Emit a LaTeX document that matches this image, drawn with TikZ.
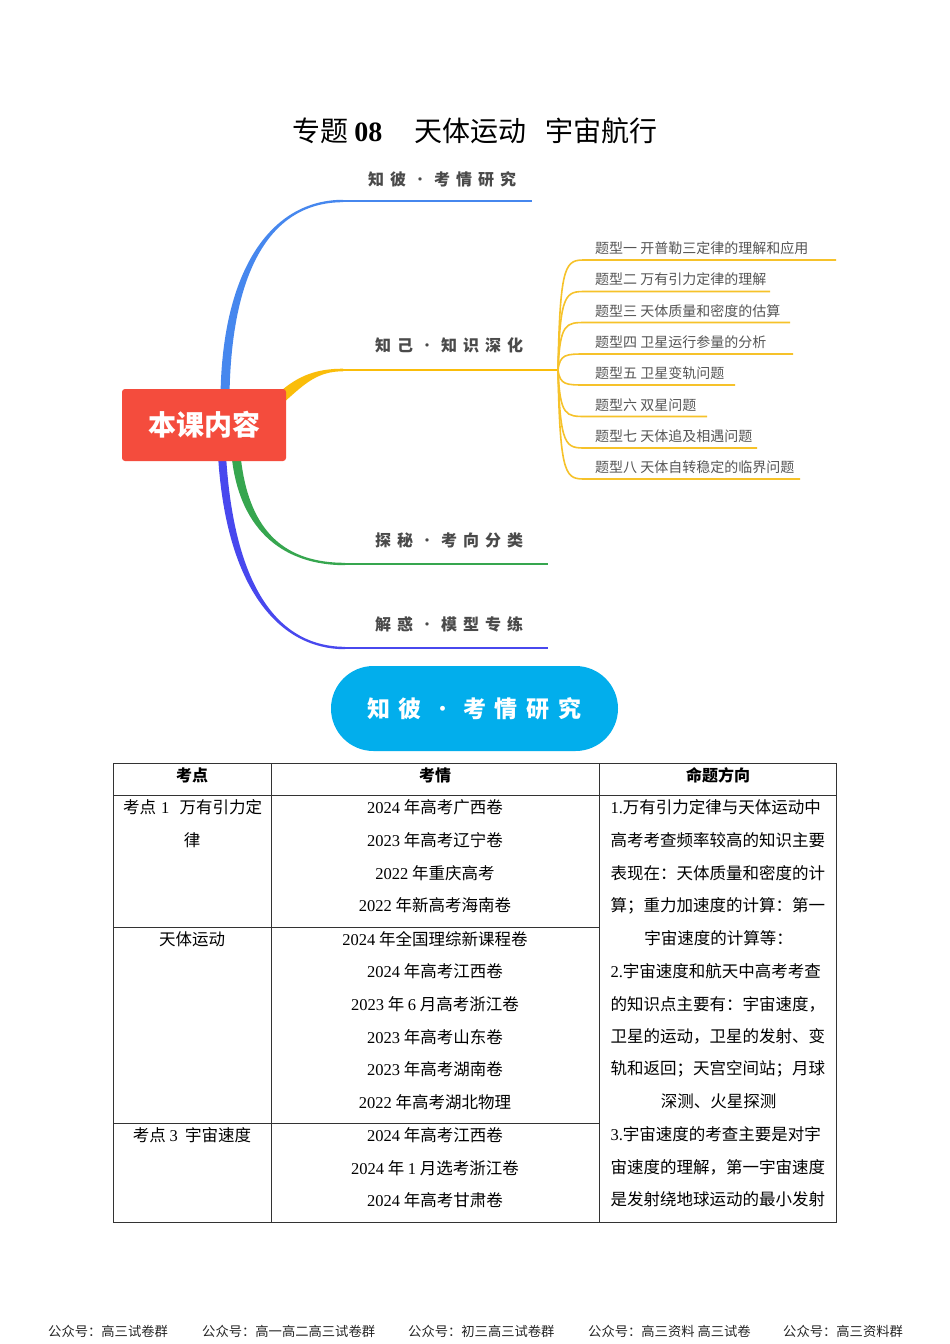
\documentclass[tikz,border=0pt]{standalone}
\usepackage{fontspec}
\setmainfont{Liberation Serif}
\newfontfamily\cjk{Noto Sans CJK SC}
\newfontfamily\lat{Liberation Serif}
\usetikzlibrary{calc}
\XeTeXlinebreaklocale "zh"
\XeTeXlinebreakskip=0pt plus 1pt
\newcommand\D[1]{{\lat #1}}
\newcommand\lsp{\hspace{6pt}}
\newcommand\psp{\hspace{9pt}}
\newcommand\mdot{{\mdseries ·}}
\newcommand\fs[1]{\fontsize{#1}{#1}\selectfont}
\definecolor{cblue}{HTML}{4687EE}
\definecolor{cpurple}{HTML}{4848EE}
\definecolor{cgreen}{HTML}{36A64F}
\definecolor{cyellow}{HTML}{FABD0A}
\definecolor{ysub}{HTML}{F6C22A}
\definecolor{cred}{HTML}{F44C3D}
\definecolor{ccyan}{HTML}{02AEEC}
\definecolor{labgray}{HTML}{4A4A4A}
\definecolor{itemgray}{HTML}{555555}
\definecolor{rule}{HTML}{333333}
\newcommand\taper[7]{%
  \fill[#1] ($(#2)-(#6)$) .. controls ($(#3)-(#6)$) and ($(#4)-(0,#7)$) .. ($(#5)-(0,#7)$)
    -- ($(#5)+(0,#7)$) .. controls ($(#4)+(0,#7)$) and ($(#3)+(#6)$) .. ($(#2)+(#6)$) -- cycle;}
\begin{document}
\begin{tikzpicture}[x=1pt,y=-1pt,
  lbl/.style={font=\cjk\bfseries\fs{16}, text=labgray, inner sep=0pt},
  itemtxt/.style={font=\cjk\fs{14}, text=itemgray, anchor=west, inner sep=0pt},
  tb/.style={font=\cjk\fs{16.5}, text=black, inner sep=0pt},
  th/.style={font=\cjk\bfseries\fs{16}, text=black, inner sep=0pt},
  foot/.style={font=\cjk\fs{13.3}, text=black!85, anchor=west, inner sep=0pt},
  rl/.style={draw=rule, line width=1pt}]
\useasboundingbox (0,0) rectangle (950,1344);
\fill[white] (0,0) rectangle (950,1344);

% title
\node[anchor=west, font=\cjk\fs{28}, inner sep=0pt] (t1) at (292,131) {专题 {\lat\bfseries 08}};
\node[anchor=west, font=\cjk\fs{28}, inner sep=0pt] (t2) at (414,131) {天体运动};
\node[anchor=west, font=\cjk\fs{28}, inner sep=0pt] (t3) at (545,131) {宇宙航行};

% branch coordinates
\coordinate (bS) at (225,395); \coordinate (bC1) at (227,268); \coordinate (bC2) at (272,201); \coordinate (bE) at (343,201); \coordinate (bEnd) at (532,201);
\coordinate (yS) at (282,397); \coordinate (yC1) at (302,379); \coordinate (yC2) at (318,370); \coordinate (yE) at (343,370); \coordinate (yj) at (558,370);
\coordinate (gS) at (236,455); \coordinate (gC1) at (244,535); \coordinate (gC2) at (288,564); \coordinate (gE) at (345,564); \coordinate (gEnd) at (548,564);
\coordinate (pS) at (222,455); \coordinate (pC1) at (230,590); \coordinate (pC2) at (280,648); \coordinate (pE) at (345,648); \coordinate (pEnd) at (548,648);

\taper{cblue}{bS}{bC1}{bC2}{bE}{4.5,0}{1.2}
\draw[cblue, line width=2pt] (bE) -- (bEnd);
\taper{cyellow}{yS}{yC1}{yC2}{yE}{3.2,4.2}{1.3}
\draw[cyellow, line width=2pt] (yE) -- (yj);
\taper{cgreen}{gS}{gC1}{gC2}{gE}{-4.5,0}{1.2}
\draw[cgreen, line width=2pt] (gE) -- (gEnd);
\taper{cpurple}{pS}{pC1}{pC2}{pE}{-4,0}{1.2}
\draw[cpurple, line width=2pt] (pE) -- (pEnd);

% root
\node[fill=cred, rounded corners=3pt, minimum width=164pt, minimum height=72pt, inner sep=0pt,
      text=white, font=\cjk\bfseries\fs{28}] (root) at (204,425) {本课内容};

% main labels
\node[lbl] (l1) at (442,179) {知\lsp 彼\lsp\mdot\lsp 考\lsp 情\lsp 研\lsp 究};
\node[lbl] (l2) at (449,345) {知\lsp 己\lsp\mdot\lsp 知\lsp 识\lsp 深\lsp 化};
\node[lbl] (l3) at (449,540) {探\lsp 秘\lsp\mdot\lsp 考\lsp 向\lsp 分\lsp 类};
\node[lbl] (l4) at (449,624) {解\lsp 惑\lsp\mdot\lsp 模\lsp 型\lsp 专\lsp 练};

% sub items
\foreach \n/\ty/\ly/\ex/\tx in {
  1/248/260/836/{题型一 开普勒三定律的理解和应用},
  2/279.5/291.5/770/{题型二 万有引力定律的理解},
  3/311/322.5/790/{题型三 天体质量和密度的估算},
  4/342/354/793/{题型四 卫星运行参量的分析},
  5/373.5/385/735/{题型五 卫星变轨问题},
  6/405/416.5/707/{题型六 双星问题},
  7/436/448/757/{题型七 天体追及相遇问题},
  8/467/479/800/{题型八 天体自转稳定的临界问题}}{
  \node[itemtxt] (it\n) at (595,\ty) {\tx};
  \coordinate (us\n) at (586,\ly);
  \coordinate (ue\n) at (\ex,\ly);
  \draw[ysub, line width=1.6pt] (yj) .. controls (560,\ly) and (566,\ly) .. (us\n) -- (ue\n);
}

% pill
\node[fill=ccyan, rounded corners=42.5pt, minimum width=287pt, minimum height=85pt, inner sep=0pt,
      text=white, font=\cjk\bfseries\fs{23}] (pill) at (474.5,708.5)
      {知\psp 彼\psp\mdot\psp 考\psp 情\psp 研\psp 究};

% table
\draw[rl] (113,763) rectangle (836,1222);
\draw[rl] (271,763) -- (271,1222);
\draw[rl] (599,763) -- (599,1222);
\draw[rl] (113,795) -- (836,795);
\draw[rl] (113,927) -- (599,927);
\draw[rl] (113,1123) -- (599,1123);

\node[th] (h1) at (192,775) {考点};
\node[th] (h2) at (435,775) {考情};
\node[th] (h3) at (718,775) {命题方向};

\node[tb] (a1) at (192.5,807.5) {\hbox to 139pt{考点 \D{1}\ \ 万有引力定}};
\node[tb] (a2) at (192,840) {律};
\node[tb] (a3) at (192,939) {天体运动};
\node[tb] (a4) at (192,1135) {考点 \D{3}\ \ 宇宙速度};

\foreach \n/\y/\tx in {
  1/807.5/{\D{2024} 年高考广西卷},
  2/840/{\D{2023} 年高考辽宁卷},
  3/873/{\D{2022} 年重庆高考},
  4/905.5/{\D{2022} 年新高考海南卷},
  5/939/{\D{2024} 年全国理综新课程卷},
  6/971.5/{\D{2024} 年高考江西卷},
  7/1004/{\D{2023} 年 \D{6} 月高考浙江卷},
  8/1037/{\D{2023} 年高考山东卷},
  9/1069.5/{\D{2023} 年高考湖南卷},
  10/1102/{\D{2022} 年高考湖北物理},
  11/1135/{\D{2024} 年高考江西卷},
  12/1168/{\D{2024} 年 \D{1} 月选考浙江卷},
  13/1200.5/{\D{2024} 年高考甘肃卷}}{
  \node[tb] (b\n) at (435,\y) {\tx};
}

\foreach \n/\y/\tx in {
  1/807.5/{\hbox to 216pt{\D{1.}万有引力定律与天体运动中}},
  2/840/{\hbox to 216pt{高考考查频率较高的知识主要}},
  3/873/{\hbox to 216pt{表现在：天体质量和密度的计}},
  4/905.5/{\hbox to 216pt{算；重力加速度的计算：第一}},
  5/938/{宇宙速度的计算等：},
  6/971/{\hbox to 216pt{\D{2.}宇宙速度和航天中高考考查}},
  7/1004/{\hbox to 216pt{的知识点主要有：宇宙速度，}},
  8/1036.5/{\hbox to 216pt{卫星的运动，卫星的发射、变}},
  9/1069/{\hbox to 216pt{轨和返回；天宫空间站；月球}},
  10/1101.5/{深测、火星探测},
  11/1134/{\hbox to 216pt{\D{3.}宇宙速度的考查主要是对宇}},
  12/1167/{\hbox to 216pt{宙速度的理解，第一宇宙速度}},
  13/1199.5/{\hbox to 216pt{是发射绕地球运动的最小发射}}}{
  \node[tb] (c\n) at (718.5,\y) {\tx};
}

% footer
\node[foot] (f1) at (48,1331) {公众号：高三试卷群};
\node[foot] (f2) at (202,1331) {公众号：高一高二高三试卷群};
\node[foot] (f3) at (408,1331) {公众号：初三高三试卷群};
\node[foot] (f4) at (588,1331) {公众号：高三资料 高三试卷};
\node[foot] (f5) at (783,1331) {公众号：高三资料群};
\end{tikzpicture}
\end{document}
